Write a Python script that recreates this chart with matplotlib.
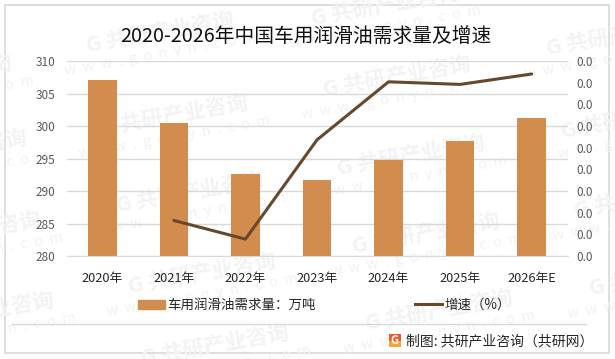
import matplotlib
matplotlib.use('Agg')
import matplotlib.pyplot as plt
from matplotlib.lines import Line2D
from matplotlib.patches import Patch, Rectangle
from matplotlib.ticker import FormatStrFormatter

plt.rcParams['font.family'] = ['Noto Sans CJK SC', 'DejaVu Sans']

# Data
years = ['2020年', '2021年', '2022年', '2023年', '2024年', '2025年', '2026年E']
demand = [307.1, 300.5, 292.6, 291.7, 294.8, 297.7, 301.2]
growth = [None, 0.0082, 0.0039, 0.0268, 0.0402, 0.0396, 0.0420]
growth_ticks = [0, 0.005, 0.01, 0.015, 0.02, 0.025, 0.03, 0.035, 0.04, 0.045]

W, H = 615, 359


def fx(px):
    return px / W


def fy(py):
    return 1 - py / H


fig = plt.figure(figsize=(6.15, 3.59), dpi=100, facecolor='white')

# Outer frame
fig.add_artist(Rectangle((fx(4.5), fy(353)), fx(604.5), (348.5) / H, fill=False,
                         edgecolor='#d9d9d9', linewidth=1.2, zorder=-5))

# Watermarks behind the chart
marks = [(160, 32), (174, 115), (190, 192), (202, 273), (215, 345), (385, 5),
         (397, 76), (411, 155), (426, 233), (439, 310), (620, 35), (635, 118),
         (648, 197), (663, 275), (-62, 75), (-47, 150), (-33, 232), (-20, 312)]
for mx, my in marks:
    fig.text(fx(mx), fy(my), 'G 共研产业咨询', fontsize=15.5, fontweight='bold',
             color='#f3f3f3', rotation=10, ha='center', va='center', zorder=-4,
             rotation_mode='anchor')
    fig.text(fx(mx), fy(my + 22), 'w  w  w  .  g  o  n  y  n  .  c  o  m', fontsize=10.5,
             color='#f2f2f2', rotation=10, ha='center', va='center', zorder=-4,
             rotation_mode='anchor')

ax = fig.add_axes([fx(66.5), fy(256), 501 / W, 195 / H])
ax.patch.set_alpha(0)
x = list(range(len(years)))
ax.bar(x, demand, width=0.4, color='#d28c4e', zorder=2)
ax.set_xlim(-0.5, 6.5)
ax.set_ylim(280, 310)
ax.set_yticks(range(280, 311, 5))
ax.set_xticks(x)
ax.set_xticklabels(years, fontsize=9.2, color='#262626')
ax.tick_params(axis='y', length=0, labelsize=8.5, labelcolor='#595959', pad=8)
ax.tick_params(axis='x', length=0, pad=11.5)
ax.grid(axis='y', color='#d9d9d9', linewidth=1, zorder=1)
ax.set_axisbelow(True)
for s in ['top', 'left', 'right']:
    ax.spines[s].set_visible(False)
ax.spines['bottom'].set_color('#d9d9d9')

ax2 = ax.twinx()
ax2.patch.set_alpha(0)
ax2.plot(x[1:], growth[1:], color='#66482e', linewidth=2.2, solid_capstyle='round')
ax2.set_ylim(0, 0.045)
ax2.set_yticks(growth_ticks)
ax2.yaxis.set_major_formatter(FormatStrFormatter('%.1f'))
ax2.tick_params(axis='y', length=0, labelsize=8.5, labelcolor='#595959', pad=6.5)
for s in ['top', 'left', 'right', 'bottom']:
    ax2.spines[s].set_visible(False)

fig.text(fx(305.5), fy(36), '2020-2026年中国车用润滑油需求量及增速', fontsize=14.2,
         color='#111111', ha='center', va='center')

# Legend
handles = [Patch(color='#d28c4e'), Line2D([0], [0], color='#66482e', linewidth=2.2)]
fig.legend(handles, ['车用润滑油需求量：万吨', '增速（%）'], loc='center',
           bbox_to_anchor=(fx(324.5), fy(305)), ncol=2, frameon=False, fontsize=9.7,
           handlelength=1.95, handletextpad=0.2, columnspacing=7.4, labelcolor='#262626')

# Footer rule and source
fig.add_artist(Line2D([fx(12), fx(586)], [fy(324), fy(324)], color='#d9d9d9', linewidth=1))
fig.add_artist(Rectangle((fx(388.5), fy(340.5)), fx(12.5), 7 / H, facecolor='#ee5a24',
                         edgecolor='none'))
fig.add_artist(Rectangle((fx(388.5), fy(347)), fx(12.5), 6.5 / H, facecolor='#f9a43a',
                         edgecolor='none'))
fig.text(fx(394.7), fy(340.5), 'G', fontsize=8, fontweight='bold', color='white',
         ha='center', va='center')
fig.text(fx(406.5), fy(341.5), '制图: 共研产业咨询（共研网）', fontsize=10, color='#262626',
         ha='left', va='center')

fig.savefig('out.png', dpi=100)
